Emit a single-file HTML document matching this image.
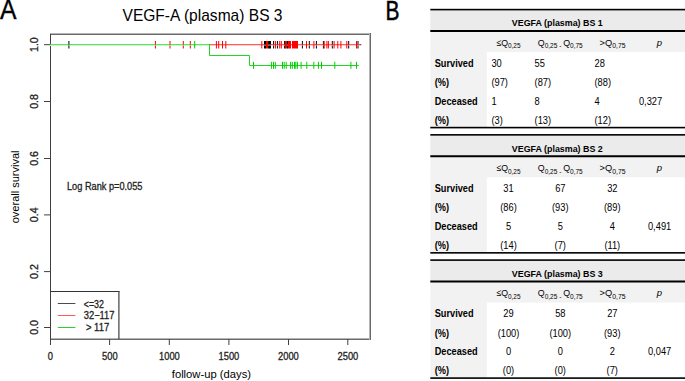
<!DOCTYPE html>
<html><head><meta charset="utf-8"><style>
*{margin:0;padding:0}
html,body{width:685px;height:381px;overflow:hidden;background:#fff}
body{position:relative}
</style></head><body>
<svg width="685" height="381" viewBox="0 0 685 381" style="position:absolute;left:0;top:0" font-family='"Liberation Sans",sans-serif'>
<rect x="50" y="33" width="321" height="1" fill="#b4b4b4"/>
<rect x="50" y="34" width="321" height="1" fill="#6a6a6a"/>
<rect x="50" y="338" width="321" height="1" fill="#b4b4b4"/>
<rect x="50" y="339" width="321" height="1" fill="#6a6a6a"/>
<rect x="369" y="33" width="1" height="307" fill="#b4b4b4"/>
<rect x="370" y="33" width="1" height="307" fill="#6a6a6a"/>
<rect x="50" y="34" width="1" height="311" fill="#404040"/>
<path d="M44 44.70H50" stroke="#404040" stroke-width="1"/>
<path d="M44 101.50H50" stroke="#404040" stroke-width="1"/>
<path d="M44 158.50H50" stroke="#404040" stroke-width="1"/>
<path d="M44 214.90H50" stroke="#404040" stroke-width="1"/>
<path d="M44 271.60H50" stroke="#404040" stroke-width="1"/>
<path d="M44 327.50H50" stroke="#404040" stroke-width="1"/>
<path d="M50.50 339V345" stroke="#404040" stroke-width="1"/>
<path d="M109.60 339V345" stroke="#404040" stroke-width="1"/>
<path d="M169.30 339V345" stroke="#404040" stroke-width="1"/>
<path d="M228.90 339V345" stroke="#404040" stroke-width="1"/>
<path d="M288.50 339V345" stroke="#404040" stroke-width="1"/>
<path d="M347.80 339V345" stroke="#404040" stroke-width="1"/>
<rect x="50.5" y="44" width="310.8" height="1" fill="#616161"/><rect x="50.5" y="45" width="310.8" height="1" fill="#cccccc"/>
<rect x="50.5" y="44" width="309.0" height="1" fill="#ff6161"/><rect x="50.5" y="45" width="309.0" height="1" fill="#ffcccc"/>
<rect x="50.5" y="44" width="159.5" height="1" fill="#61e061"/><rect x="50.5" y="45" width="159.5" height="1" fill="#ccf5cc"/>
<path d="M68.9 41.00V48.50M264.5 41.00V48.50M265.5 41.00V48.50M268.6 41.00V48.50M269.5 41.00V48.50M270.5 41.00V48.50M273.6 41.00V48.50M277.4 41.00V48.50M284.6 41.00V48.50M287.5 41.00V48.50M302.4 41.00V48.50M309.3 41.00V48.50M316.4 41.00V48.50M323.4 41.00V48.50M332.3 41.00V48.50M348.7 41.00V48.50M358.0 41.00V48.50" stroke="#000" stroke-width="1" fill="none"/>
<g opacity="0.5"><rect x="210" y="44" width="149.5" height="1" fill="#ff6161"/><rect x="210" y="45" width="149.5" height="1" fill="#ffcccc"/></g>
<path d="M155.4 41.00V48.50M170.0 41.00V48.50M183.3 41.00V48.50M190.3 41.00V48.50M216.4 41.00V48.50M218.7 41.00V48.50M222.5 41.00V48.50M225.8 41.00V48.50M261.8 41.00V48.50M266.5 41.00V48.50M267.5 41.00V48.50M275.4 41.00V48.50M279.7 41.00V48.50M281.3 41.00V48.50M285.5 41.00V48.50M286.5 41.00V48.50M288.5 41.00V48.50M289.5 41.00V48.50M290.5 41.00V48.50M292.5 41.00V48.50M293.5 41.00V48.50M294.5 41.00V48.50M295.5 41.00V48.50M296.5 41.00V48.50M297.5 41.00V48.50M306.5 41.00V48.50M313.9 41.00V48.50M324.2 41.00V48.50M326.9 41.00V48.50M328.4 41.00V48.50M334.1 41.00V48.50M337.8 41.00V48.50M340.9 41.00V48.50M346.8 41.00V48.50M356.5 41.00V48.50" stroke="#f00" stroke-width="1" fill="none"/>
<g opacity="0.5"><rect x="50.5" y="44" width="159.5" height="1" fill="#61e061"/><rect x="50.5" y="45" width="159.5" height="1" fill="#ccf5cc"/></g>
<path d="M209.5 44V55.5H249.5V65.5H358.8" stroke="#00cd00" stroke-opacity="0.85" stroke-width="1" fill="none"/>
<path d="M194.7 41.00V48.50" stroke="#00cd00" stroke-width="1" fill="none"/>
<path d="M253.5 61.80V68.80M271.4 61.80V68.80M273.5 61.80V68.80M275.3 61.80V68.80M282.5 61.80V68.80M284.2 61.80V68.80M286.2 61.80V68.80M290.6 61.80V68.80M292.3 61.80V68.80M294.5 61.80V68.80M295.8 61.80V68.80M297.4 61.80V68.80M301.1 61.80V68.80M306.8 61.80V68.80M313.8 61.80V68.80M318.4 61.80V68.80M321.5 61.80V68.80M334.8 61.80V68.80M350.9 61.80V68.80M356.5 61.80V68.80" stroke="#00cd00" stroke-width="1" fill="none"/>
<rect x="51" y="292" width="68" height="46" fill="#fff"/>
<rect x="50" y="291" width="69.5" height="1" fill="#333"/>
<path d="M118.9 291V339" stroke="#404040" stroke-width="1.2"/>
<path d="M57.8 303.5H75.4" stroke="#000" stroke-width="1" stroke-opacity="0.7"/>
<path d="M57.8 315.5H75.4" stroke="#f00" stroke-width="1" stroke-opacity="0.65"/>
<path d="M57.8 327.5H75.4" stroke="#00cd00" stroke-width="1" stroke-opacity="0.85"/>
<text x="0.00" y="19.20" font-size="28.00" textLength="16.50" lengthAdjust="spacingAndGlyphs" stroke="#000" stroke-width="0.4">A</text>
<text x="385.50" y="19.80" font-size="27.00" textLength="14.00" lengthAdjust="spacingAndGlyphs" stroke="#000" stroke-width="0.5">B</text>
<text x="122.50" y="20.90" font-size="17.00" textLength="160.00" lengthAdjust="spacingAndGlyphs">VEGF-A (plasma) BS 3</text>
<text x="38.10" y="44.60" font-size="10.60" text-anchor="middle" textLength="14.74" lengthAdjust="spacingAndGlyphs" fill="#222" stroke="#222" stroke-width="0.3" transform="rotate(-90 38.10 44.60)">1.0</text>
<text x="38.10" y="101.40" font-size="10.60" text-anchor="middle" textLength="14.74" lengthAdjust="spacingAndGlyphs" fill="#222" stroke="#222" stroke-width="0.3" transform="rotate(-90 38.10 101.40)">0.8</text>
<text x="38.10" y="158.40" font-size="10.60" text-anchor="middle" textLength="14.74" lengthAdjust="spacingAndGlyphs" fill="#222" stroke="#222" stroke-width="0.3" transform="rotate(-90 38.10 158.40)">0.6</text>
<text x="38.10" y="214.80" font-size="10.60" text-anchor="middle" textLength="14.74" lengthAdjust="spacingAndGlyphs" fill="#222" stroke="#222" stroke-width="0.3" transform="rotate(-90 38.10 214.80)">0.4</text>
<text x="38.10" y="271.50" font-size="10.60" text-anchor="middle" textLength="14.74" lengthAdjust="spacingAndGlyphs" fill="#222" stroke="#222" stroke-width="0.3" transform="rotate(-90 38.10 271.50)">0.2</text>
<text x="38.10" y="327.40" font-size="10.60" text-anchor="middle" textLength="14.74" lengthAdjust="spacingAndGlyphs" fill="#222" stroke="#222" stroke-width="0.3" transform="rotate(-90 38.10 327.40)">0.0</text>
<text x="50.40" y="359.80" font-size="10.60" text-anchor="middle" textLength="5.21" lengthAdjust="spacingAndGlyphs" fill="#222" stroke="#222" stroke-width="0.3">0</text>
<text x="109.90" y="359.80" font-size="10.60" text-anchor="middle" textLength="15.62" lengthAdjust="spacingAndGlyphs" fill="#222" stroke="#222" stroke-width="0.3">500</text>
<text x="169.40" y="359.80" font-size="10.60" text-anchor="middle" textLength="20.82" lengthAdjust="spacingAndGlyphs" fill="#222" stroke="#222" stroke-width="0.3">1000</text>
<text x="228.90" y="359.80" font-size="10.60" text-anchor="middle" textLength="20.82" lengthAdjust="spacingAndGlyphs" fill="#222" stroke="#222" stroke-width="0.3">1500</text>
<text x="288.40" y="359.80" font-size="10.60" text-anchor="middle" textLength="20.82" lengthAdjust="spacingAndGlyphs" fill="#222" stroke="#222" stroke-width="0.3">2000</text>
<text x="347.90" y="359.80" font-size="10.60" text-anchor="middle" textLength="20.82" lengthAdjust="spacingAndGlyphs" fill="#222" stroke="#222" stroke-width="0.3">2500</text>
<text x="18.80" y="186.90" font-size="11.40" text-anchor="middle" textLength="72.75" lengthAdjust="spacingAndGlyphs" transform="rotate(-90 18.80 186.90)">overall survival</text>
<text x="211.40" y="377.80" font-size="11.40" text-anchor="middle" textLength="79.26" lengthAdjust="spacingAndGlyphs">follow-up (days)</text>
<text x="67.00" y="189.70" font-size="10.00" textLength="75.45" lengthAdjust="spacingAndGlyphs" fill="#222" stroke="#222" stroke-width="0.3">Log Rank p=0.055</text>
<text x="83.80" y="307.80" font-size="10.60" textLength="20.06" lengthAdjust="spacingAndGlyphs" fill="#222" stroke="#222" stroke-width="0.3">&lt;=32</text>
<text x="83.80" y="318.90" font-size="10.60" textLength="30.69" lengthAdjust="spacingAndGlyphs" fill="#222" stroke="#222" stroke-width="0.3">32&#8722;117</text>
<text x="85.90" y="330.70" font-size="10.60" textLength="23.33" lengthAdjust="spacingAndGlyphs" fill="#222" stroke="#222" stroke-width="0.3">&gt; 117</text>
<rect x="430.3" y="10.00" width="254.7" height="21" fill="#ebebeb"/>
<rect x="430.3" y="31.00" width="254.7" height="21.10" fill="#f2f2f2"/>
<rect x="430.3" y="50.00" width="56.50" height="77.50" fill="#f2f2f2"/>
<rect x="430.3" y="8.80" width="254.7" height="1.6" fill="#000"/>
<rect x="430.3" y="30.00" width="254.7" height="2.0" fill="#000"/>
<rect x="430.3" y="126.80" width="254.7" height="1.6" fill="#000"/>
<text x="557.30" y="26.30" font-size="9.60" text-anchor="middle" textLength="91.00" lengthAdjust="spacingAndGlyphs" font-weight="bold">VEGFA (plasma) BS 1</text>
<text x="496.40" y="45.80" font-size="9.50" textLength="24.10" lengthAdjust="spacingAndGlyphs">&#8804;Q<tspan font-size="7" dy="2.5">0,25</tspan></text>
<text x="537.80" y="45.80" font-size="9.50" textLength="44.90" lengthAdjust="spacingAndGlyphs">Q<tspan font-size="7" dy="2.5">0,25 - </tspan><tspan dy="-2.5">Q</tspan><tspan font-size="7" dy="2.5">0,75</tspan></text>
<text x="599.60" y="45.80" font-size="9.50" textLength="26.00" lengthAdjust="spacingAndGlyphs">&gt;Q<tspan font-size="7" dy="2.5">0,75</tspan></text>
<text x="656.70" y="45.80" font-size="9.50" font-style="italic">p</text>
<text x="434.70" y="66.80" font-size="10.00" textLength="38.86" lengthAdjust="spacingAndGlyphs" font-weight="bold">Survived</text>
<text x="491.40" y="66.80" font-size="10.00" textLength="10.34" lengthAdjust="spacingAndGlyphs">30</text>
<text x="534.60" y="66.80" font-size="10.00" textLength="10.34" lengthAdjust="spacingAndGlyphs">55</text>
<text x="594.50" y="66.80" font-size="10.00" textLength="10.34" lengthAdjust="spacingAndGlyphs">28</text>
<text x="434.70" y="86.00" font-size="10.00" textLength="14.31" lengthAdjust="spacingAndGlyphs" font-weight="bold">(%)</text>
<text x="491.40" y="86.00" font-size="10.00" textLength="16.54" lengthAdjust="spacingAndGlyphs">(97)</text>
<text x="534.60" y="86.00" font-size="10.00" textLength="16.54" lengthAdjust="spacingAndGlyphs">(87)</text>
<text x="594.50" y="86.00" font-size="10.00" textLength="16.54" lengthAdjust="spacingAndGlyphs">(88)</text>
<text x="434.70" y="104.50" font-size="10.00" textLength="42.96" lengthAdjust="spacingAndGlyphs" font-weight="bold">Deceased</text>
<text x="491.40" y="104.50" font-size="10.00" textLength="5.17" lengthAdjust="spacingAndGlyphs">1</text>
<text x="534.60" y="104.50" font-size="10.00" textLength="5.17" lengthAdjust="spacingAndGlyphs">8</text>
<text x="594.50" y="104.50" font-size="10.00" textLength="5.17" lengthAdjust="spacingAndGlyphs">4</text>
<text x="638.90" y="104.50" font-size="10.00" textLength="23.27" lengthAdjust="spacingAndGlyphs">0,327</text>
<text x="434.70" y="123.50" font-size="10.00" textLength="14.31" lengthAdjust="spacingAndGlyphs" font-weight="bold">(%)</text>
<text x="491.40" y="123.50" font-size="10.00" textLength="11.37" lengthAdjust="spacingAndGlyphs">(3)</text>
<text x="534.60" y="123.50" font-size="10.00" textLength="16.54" lengthAdjust="spacingAndGlyphs">(13)</text>
<text x="594.50" y="123.50" font-size="10.00" textLength="16.54" lengthAdjust="spacingAndGlyphs">(12)</text>
<rect x="430.3" y="135.25" width="254.7" height="21" fill="#ebebeb"/>
<rect x="430.3" y="156.25" width="254.7" height="21.10" fill="#f2f2f2"/>
<rect x="430.3" y="175.25" width="56.50" height="77.50" fill="#f2f2f2"/>
<rect x="430.3" y="134.05" width="254.7" height="1.6" fill="#000"/>
<rect x="430.3" y="155.25" width="254.7" height="2.0" fill="#000"/>
<rect x="430.3" y="252.05" width="254.7" height="1.6" fill="#000"/>
<text x="557.30" y="151.55" font-size="9.60" text-anchor="middle" textLength="91.00" lengthAdjust="spacingAndGlyphs" font-weight="bold">VEGFA (plasma) BS 2</text>
<text x="496.40" y="171.05" font-size="9.50" textLength="24.10" lengthAdjust="spacingAndGlyphs">&#8804;Q<tspan font-size="7" dy="2.5">0,25</tspan></text>
<text x="537.80" y="171.05" font-size="9.50" textLength="44.90" lengthAdjust="spacingAndGlyphs">Q<tspan font-size="7" dy="2.5">0,25 - </tspan><tspan dy="-2.5">Q</tspan><tspan font-size="7" dy="2.5">0,75</tspan></text>
<text x="599.60" y="171.05" font-size="9.50" textLength="26.00" lengthAdjust="spacingAndGlyphs">&gt;Q<tspan font-size="7" dy="2.5">0,75</tspan></text>
<text x="656.70" y="171.05" font-size="9.50" font-style="italic">p</text>
<text x="434.70" y="192.05" font-size="10.00" textLength="38.86" lengthAdjust="spacingAndGlyphs" font-weight="bold">Survived</text>
<text x="508.50" y="192.05" font-size="10.00" text-anchor="middle" textLength="10.34" lengthAdjust="spacingAndGlyphs">31</text>
<text x="560.30" y="192.05" font-size="10.00" text-anchor="middle" textLength="10.34" lengthAdjust="spacingAndGlyphs">67</text>
<text x="612.30" y="192.05" font-size="10.00" text-anchor="middle" textLength="10.34" lengthAdjust="spacingAndGlyphs">32</text>
<text x="434.70" y="211.25" font-size="10.00" textLength="14.31" lengthAdjust="spacingAndGlyphs" font-weight="bold">(%)</text>
<text x="508.50" y="211.25" font-size="10.00" text-anchor="middle" textLength="16.54" lengthAdjust="spacingAndGlyphs">(86)</text>
<text x="560.30" y="211.25" font-size="10.00" text-anchor="middle" textLength="16.54" lengthAdjust="spacingAndGlyphs">(93)</text>
<text x="612.30" y="211.25" font-size="10.00" text-anchor="middle" textLength="16.54" lengthAdjust="spacingAndGlyphs">(89)</text>
<text x="434.70" y="229.75" font-size="10.00" textLength="42.96" lengthAdjust="spacingAndGlyphs" font-weight="bold">Deceased</text>
<text x="508.50" y="229.75" font-size="10.00" text-anchor="middle" textLength="5.17" lengthAdjust="spacingAndGlyphs">5</text>
<text x="560.30" y="229.75" font-size="10.00" text-anchor="middle" textLength="5.17" lengthAdjust="spacingAndGlyphs">5</text>
<text x="612.30" y="229.75" font-size="10.00" text-anchor="middle" textLength="5.17" lengthAdjust="spacingAndGlyphs">4</text>
<text x="659.60" y="229.75" font-size="10.00" text-anchor="middle" textLength="23.27" lengthAdjust="spacingAndGlyphs">0,491</text>
<text x="434.70" y="248.75" font-size="10.00" textLength="14.31" lengthAdjust="spacingAndGlyphs" font-weight="bold">(%)</text>
<text x="508.50" y="248.75" font-size="10.00" text-anchor="middle" textLength="16.54" lengthAdjust="spacingAndGlyphs">(14)</text>
<text x="560.30" y="248.75" font-size="10.00" text-anchor="middle" textLength="11.37" lengthAdjust="spacingAndGlyphs">(7)</text>
<text x="612.30" y="248.75" font-size="10.00" text-anchor="middle" textLength="15.85" lengthAdjust="spacingAndGlyphs">(11)</text>
<rect x="430.3" y="260.50" width="254.7" height="21" fill="#ebebeb"/>
<rect x="430.3" y="281.50" width="254.7" height="21.10" fill="#f2f2f2"/>
<rect x="430.3" y="300.50" width="56.50" height="77.50" fill="#f2f2f2"/>
<rect x="430.3" y="259.30" width="254.7" height="1.6" fill="#000"/>
<rect x="430.3" y="280.50" width="254.7" height="2.0" fill="#000"/>
<rect x="430.3" y="377.30" width="254.7" height="1.6" fill="#000"/>
<text x="557.30" y="276.80" font-size="9.60" text-anchor="middle" textLength="91.00" lengthAdjust="spacingAndGlyphs" font-weight="bold">VEGFA (plasma) BS 3</text>
<text x="496.40" y="296.30" font-size="9.50" textLength="24.10" lengthAdjust="spacingAndGlyphs">&#8804;Q<tspan font-size="7" dy="2.5">0,25</tspan></text>
<text x="537.80" y="296.30" font-size="9.50" textLength="44.90" lengthAdjust="spacingAndGlyphs">Q<tspan font-size="7" dy="2.5">0,25 - </tspan><tspan dy="-2.5">Q</tspan><tspan font-size="7" dy="2.5">0,75</tspan></text>
<text x="599.60" y="296.30" font-size="9.50" textLength="26.00" lengthAdjust="spacingAndGlyphs">&gt;Q<tspan font-size="7" dy="2.5">0,75</tspan></text>
<text x="656.70" y="296.30" font-size="9.50" font-style="italic">p</text>
<text x="434.70" y="317.30" font-size="10.00" textLength="38.86" lengthAdjust="spacingAndGlyphs" font-weight="bold">Survived</text>
<text x="508.50" y="317.30" font-size="10.00" text-anchor="middle" textLength="10.34" lengthAdjust="spacingAndGlyphs">29</text>
<text x="560.30" y="317.30" font-size="10.00" text-anchor="middle" textLength="10.34" lengthAdjust="spacingAndGlyphs">58</text>
<text x="612.30" y="317.30" font-size="10.00" text-anchor="middle" textLength="10.34" lengthAdjust="spacingAndGlyphs">27</text>
<text x="434.70" y="336.50" font-size="10.00" textLength="14.31" lengthAdjust="spacingAndGlyphs" font-weight="bold">(%)</text>
<text x="508.50" y="336.50" font-size="10.00" text-anchor="middle" textLength="21.71" lengthAdjust="spacingAndGlyphs">(100)</text>
<text x="560.30" y="336.50" font-size="10.00" text-anchor="middle" textLength="21.71" lengthAdjust="spacingAndGlyphs">(100)</text>
<text x="612.30" y="336.50" font-size="10.00" text-anchor="middle" textLength="16.54" lengthAdjust="spacingAndGlyphs">(93)</text>
<text x="434.70" y="355.00" font-size="10.00" textLength="42.96" lengthAdjust="spacingAndGlyphs" font-weight="bold">Deceased</text>
<text x="508.50" y="355.00" font-size="10.00" text-anchor="middle" textLength="5.17" lengthAdjust="spacingAndGlyphs">0</text>
<text x="560.30" y="355.00" font-size="10.00" text-anchor="middle" textLength="5.17" lengthAdjust="spacingAndGlyphs">0</text>
<text x="612.30" y="355.00" font-size="10.00" text-anchor="middle" textLength="5.17" lengthAdjust="spacingAndGlyphs">2</text>
<text x="659.60" y="355.00" font-size="10.00" text-anchor="middle" textLength="23.27" lengthAdjust="spacingAndGlyphs">0,047</text>
<text x="434.70" y="374.00" font-size="10.00" textLength="14.31" lengthAdjust="spacingAndGlyphs" font-weight="bold">(%)</text>
<text x="508.50" y="374.00" font-size="10.00" text-anchor="middle" textLength="11.37" lengthAdjust="spacingAndGlyphs">(0)</text>
<text x="560.30" y="374.00" font-size="10.00" text-anchor="middle" textLength="11.37" lengthAdjust="spacingAndGlyphs">(0)</text>
<text x="612.30" y="374.00" font-size="10.00" text-anchor="middle" textLength="11.37" lengthAdjust="spacingAndGlyphs">(7)</text>
</svg>
</body></html>
